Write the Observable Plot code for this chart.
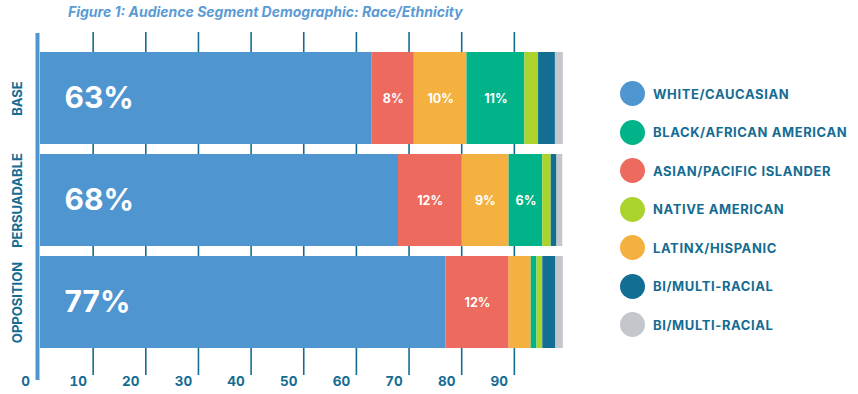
<!DOCTYPE html>
<html>
<head>
<meta charset="utf-8">
<script src="https://cdn.jsdelivr.net/npm/d3@7"></script>
<script src="https://cdn.jsdelivr.net/npm/@observablehq/plot@0.6"></script>
<style>
  html, body { margin: 0; padding: 0; background: #fff; }
  body { width: 858px; height: 394px; position: relative; overflow: hidden; font-family: Inter, "DejaVu Sans", sans-serif; }
  #title { position: absolute; top: 3px; left: 68px; font-size: 14px; font-weight: 700; font-style: italic; color: #5B9BD5; white-space: nowrap; }
  #chart { position: absolute; top: 24px; left: 0; }
  #legend { position: absolute; left: 620px; top: 81px; }
  .item { display: flex; align-items: center; height: 38.5px; }
  .dot { width: 25px; height: 25px; border-radius: 50%; flex: none; margin-top: -13px; }
  .lab { margin-left: 8px; margin-top: -13px; font-size: 13px; font-weight: 700; color: #156C93; white-space: nowrap; letter-spacing: 0.6px; }
</style>
</head>
<body>
<div id="title">Figure 1: Audience Segment Demographic: Race/Ethnicity</div>
<div id="chart"></div>
<div id="legend"></div>
<script>
// ---- data ----
const segments = ["BASE", "PERSUADABLE", "OPPOSITION"];
const raceKeys = ["white", "asian", "latinx", "black", "native", "multi", "other"];
const white  = [63, 68, 77];
const asian  = [8, 12, 12];
const latinx = [10, 9, 4.2];
const black  = [11, 6.4, 1.1];
const native = [2.6, 1.6, 1.1];
const multi  = [3.2, 1.1, 2.5];
const other  = [1.5, 1.1, 1.4];
const xTicks = [0, 10, 20, 30, 40, 50, 60, 70, 80, 90];
const legendKeys = ["white", "black", "asian", "native", "latinx", "multi", "other"];
const legendLabels = ["WHITE/CAUCASIAN", "BLACK/AFRICAN AMERICAN", "ASIAN/PACIFIC ISLANDER", "NATIVE AMERICAN", "LATINX/HISPANIC", "BI/MULTI-RACIAL", "BI/MULTI-RACIAL"];
const colors = ["#4F95D0", "#EC6A5E", "#F4B140", "#00B389", "#ABD32E", "#126F93", "#C3C7CC"];

const series = {white, asian, latinx, black, native, multi, other};
const rows = [];
segments.forEach((s, i) => raceKeys.forEach(r => rows.push({segment: s, race: r, value: series[r][i]})));

const teal = "#156C93";
const font = "Inter, 'DejaVu Sans', sans-serif";

const chart = Plot.plot({
  width: 600,
  height: 370,
  marginLeft: 40,
  marginRight: 33.5,
  marginTop: 8,
  marginBottom: 19,
  style: {fontFamily: font, background: "transparent"},
  x: {domain: [0, 100]},
  y: {domain: segments, range: [22, 329.5], paddingInner: 0.1, paddingOuter: 0.05, axis: null},
  color: {domain: raceKeys, range: colors},
  marks: [
    Plot.ruleX(xTicks.filter(t => t > 0), {stroke: teal, strokeWidth: 1.6}),
    Plot.barX(rows, {x: "value", y: "segment", fill: "race", inset: 0}),
    Plot.ruleX([0], {stroke: "#4F95D0", strokeWidth: 4, dx: -3, insetTop: 1, insetBottom: -5}),
    Plot.text(rows, Plot.stackX1({
      x: "value", y: "segment",
      text: d => d.race === "white" ? d.value + "%" : null,
      textAnchor: "start", dx: 24, fontSize: 30, fontWeight: 700, fill: "white"
    })),
    Plot.text(rows, Plot.stackX({
      x: "value", y: "segment",
      text: d => d.race !== "white" && d.value >= 5 ? Math.round(d.value) + "%" : null,
      fontSize: 12.5, fontWeight: 700, fill: "white"
    })),
    Plot.text(segments, {
      y: d => d, text: d => d, frameAnchor: "left", textAnchor: "middle", dx: -23, rotate: -90,
      fontSize: 13, fontWeight: 700, fill: teal
    }),
    Plot.axisX({
      ticks: xTicks, tickSize: 0, tickPadding: 1, dx: -15, label: null,
      fontSize: 13.5, fontWeight: 700, fill: teal
    })
  ]
});
document.getElementById("chart").appendChild(chart);

const legend = document.getElementById("legend");
legendKeys.forEach((k, i) => {
  const item = document.createElement("div");
  item.className = "item";
  const dot = document.createElement("div");
  dot.className = "dot";
  dot.style.background = colors[raceKeys.indexOf(k)];
  const lab = document.createElement("div");
  lab.className = "lab";
  lab.textContent = legendLabels[i];
  item.appendChild(dot);
  item.appendChild(lab);
  legend.appendChild(item);
});
</script>
</body>
</html>
